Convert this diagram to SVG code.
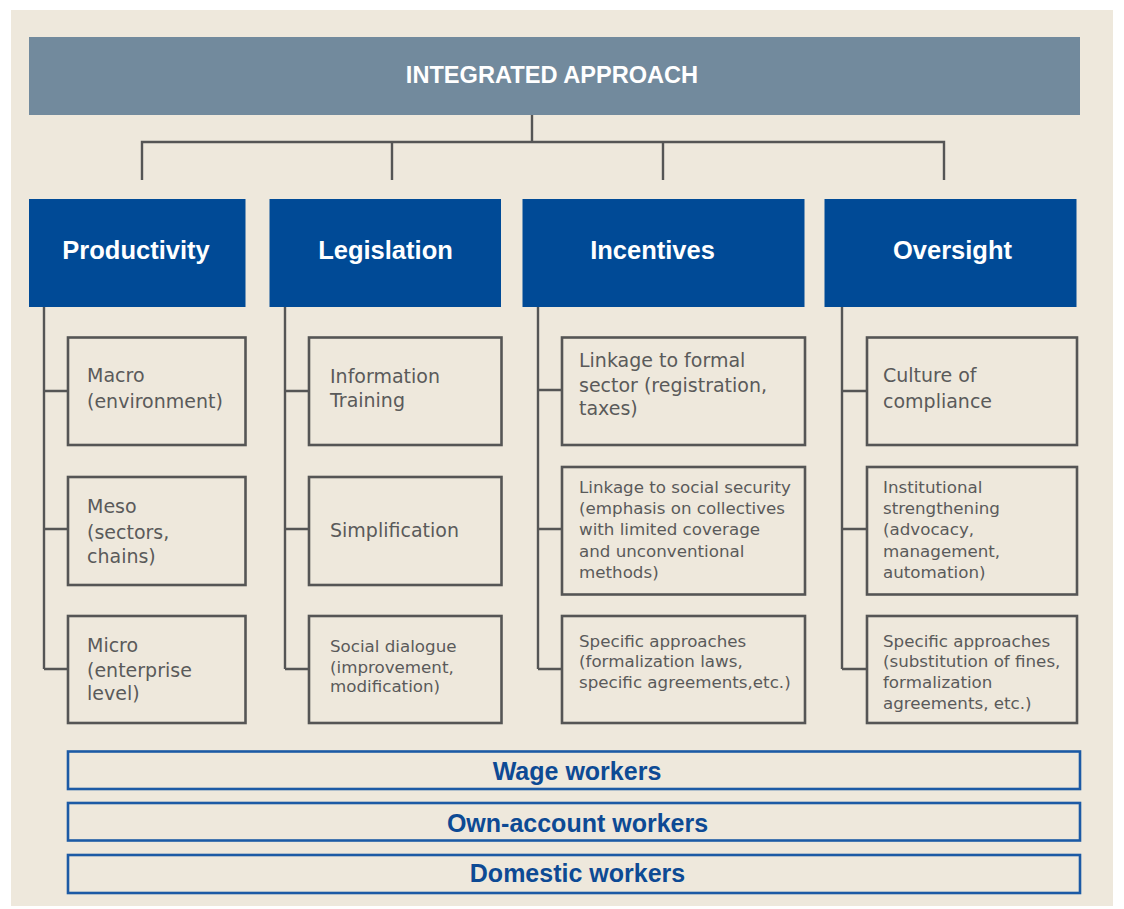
<svg xmlns="http://www.w3.org/2000/svg" width="1124" height="909" viewBox="0 0 1124 909">
  <style>
    .bg { fill: #EEE8DC; }
    .top { fill: #728A9D; }
    .head { fill: #004A96; }
    .sub { fill: #EEE8DC; stroke: #555555; stroke-width: 2.6; }
    .bar { fill: #EEE8DC; stroke: #1C5AA5; stroke-width: 2.6; }
    .wire { fill: none; stroke: #555555; stroke-width: 2.4; }
    .t-top { font-family: "Liberation Sans", Arial, sans-serif; font-weight: bold; font-size: 23.6px; fill: #FFFFFF; text-anchor: middle; }
    .t-head { font-family: "Liberation Sans", Arial, sans-serif; font-weight: bold; font-size: 25.5px; fill: #FFFFFF; text-anchor: middle; }
    .t-sub { font-family: "DejaVu Sans", sans-serif; font-size: 19px; fill: #5A5A5A; }
    .t-sm { font-family: "DejaVu Sans", sans-serif; font-size: 16.7px; fill: #5A5A5A; }
    .t-bar { font-family: "Liberation Sans", Arial, sans-serif; font-weight: bold; font-size: 25px; fill: #0D4A94; text-anchor: middle; }
  </style>

  <rect class="bg" x="11" y="10" width="1102" height="896"/>

  <!-- connectors -->
  <g id="connectors">
    <path class="wire" d="M532 115 V142 M142 180 V142 H944 V180 M392 142 V180 M663 142 V180"/>
    <path class="wire" d="M44 307 V669 M44 391 H68 M44 529 H68 M44 669 H68"/>
    <path class="wire" d="M285 307 V669 M285 391 H309 M285 529 H309 M285 669 H309"/>
    <path class="wire" d="M538 307 V669 M538 390 H562 M538 529 H562 M538 669 H562"/>
    <path class="wire" d="M842 307 V669 M842 391 H867 M842 529 H867 M842 669 H867"/>
  </g>

  <g id="integrated-approach">
    <rect class="top" x="29" y="37" width="1051" height="78"/>
    <text class="t-top" x="552" y="82.5">INTEGRATED APPROACH</text>
  </g>

  <g id="productivity">
    <rect class="head" x="29" y="199" width="216.5" height="108"/>
    <text class="t-head" x="136" y="258.5">Productivity</text>
  </g>
  <g id="legislation">
    <rect class="head" x="269.5" y="199" width="231.5" height="108"/>
    <text class="t-head" x="385.5" y="258.5">Legislation</text>
  </g>
  <g id="incentives">
    <rect class="head" x="522.5" y="199" width="282" height="108"/>
    <text class="t-head" x="652.5" y="258.5">Incentives</text>
  </g>
  <g id="oversight">
    <rect class="head" x="824.5" y="199" width="252" height="108"/>
    <text class="t-head" x="952.5" y="258.5">Oversight</text>
  </g>

  <!-- Productivity column -->
  <g id="macro">
    <rect class="sub" x="68" y="337.5" width="177.5" height="107.5"/>
    <text class="t-sub" x="87" y="382">Macro</text>
    <text class="t-sub" x="87" y="407.5">(environment)</text>
  </g>
  <g id="meso">
    <rect class="sub" x="68" y="477" width="177.5" height="108"/>
    <text class="t-sub" x="87" y="513">Meso</text>
    <text class="t-sub" x="87" y="538.5">(sectors,</text>
    <text class="t-sub" x="87" y="563">chains)</text>
  </g>
  <g id="micro">
    <rect class="sub" x="68" y="616" width="177.5" height="107"/>
    <text class="t-sub" x="87" y="652">Micro</text>
    <text class="t-sub" x="87" y="677">(enterprise</text>
    <text class="t-sub" x="87" y="700">level)</text>
  </g>

  <!-- Legislation column -->
  <g id="information-training">
    <rect class="sub" x="309" y="337.5" width="192.5" height="107.5"/>
    <text class="t-sub" x="330" y="382.5">Information</text>
    <text class="t-sub" x="330" y="407">Training</text>
  </g>
  <g id="simplification">
    <rect class="sub" x="309" y="477" width="192.5" height="108"/>
    <text class="t-sub" x="330" y="536.5">Simplification</text>
  </g>
  <g id="social-dialogue">
    <rect class="sub" x="309" y="616" width="192.5" height="107"/>
    <text class="t-sm" x="330" y="651.5">Social dialogue</text>
    <text class="t-sm" x="330" y="672.5">(improvement,</text>
    <text class="t-sm" x="330" y="692">modification)</text>
  </g>

  <!-- Incentives column -->
  <g id="linkage-formal">
    <rect class="sub" x="562" y="337.5" width="243" height="107.5"/>
    <text class="t-sub" x="579" y="367">Linkage to formal</text>
    <text class="t-sub" x="579" y="391.5">sector (registration,</text>
    <text class="t-sub" x="579" y="415">taxes)</text>
  </g>
  <g id="linkage-social">
    <rect class="sub" x="562" y="467" width="243" height="127.5"/>
    <text class="t-sm" x="579" y="493">Linkage to social security</text>
    <text class="t-sm" x="579" y="514.2">(emphasis on collectives</text>
    <text class="t-sm" x="579" y="535.4">with limited coverage</text>
    <text class="t-sm" x="579" y="556.6">and unconventional</text>
    <text class="t-sm" x="579" y="577.8">methods)</text>
  </g>
  <g id="specific-incentives">
    <rect class="sub" x="562" y="616" width="243" height="107"/>
    <text class="t-sm" x="579" y="646.5">Specific approaches</text>
    <text class="t-sm" x="579" y="667">(formalization laws,</text>
    <text class="t-sm" x="579" y="688">specific agreements,etc.)</text>
  </g>

  <!-- Oversight column -->
  <g id="culture-compliance">
    <rect class="sub" x="867" y="337.5" width="210" height="107.5"/>
    <text class="t-sub" x="883" y="382">Culture of</text>
    <text class="t-sub" x="883" y="407.5">compliance</text>
  </g>
  <g id="institutional">
    <rect class="sub" x="867" y="467" width="210" height="127.5"/>
    <text class="t-sm" x="883" y="493">Institutional</text>
    <text class="t-sm" x="883" y="514.2">strengthening</text>
    <text class="t-sm" x="883" y="535.4">(advocacy,</text>
    <text class="t-sm" x="883" y="556.6">management,</text>
    <text class="t-sm" x="883" y="577.8">automation)</text>
  </g>
  <g id="specific-oversight">
    <rect class="sub" x="867" y="616" width="210" height="107"/>
    <text class="t-sm" x="883" y="646.5">Specific approaches</text>
    <text class="t-sm" x="883" y="667">(substitution of fines,</text>
    <text class="t-sm" x="883" y="688">formalization</text>
    <text class="t-sm" x="883" y="708.5">agreements, etc.)</text>
  </g>

  <!-- worker categories -->
  <g id="wage-workers">
    <rect class="bar" x="68" y="751.5" width="1012" height="37.5"/>
    <text class="t-bar" x="577" y="780">Wage workers</text>
  </g>
  <g id="own-account-workers">
    <rect class="bar" x="68" y="803" width="1012" height="37.5"/>
    <text class="t-bar" x="577.5" y="832">Own-account workers</text>
  </g>
  <g id="domestic-workers">
    <rect class="bar" x="68" y="855" width="1012" height="38"/>
    <text class="t-bar" x="577.5" y="881.5">Domestic workers</text>
  </g>
</svg>
